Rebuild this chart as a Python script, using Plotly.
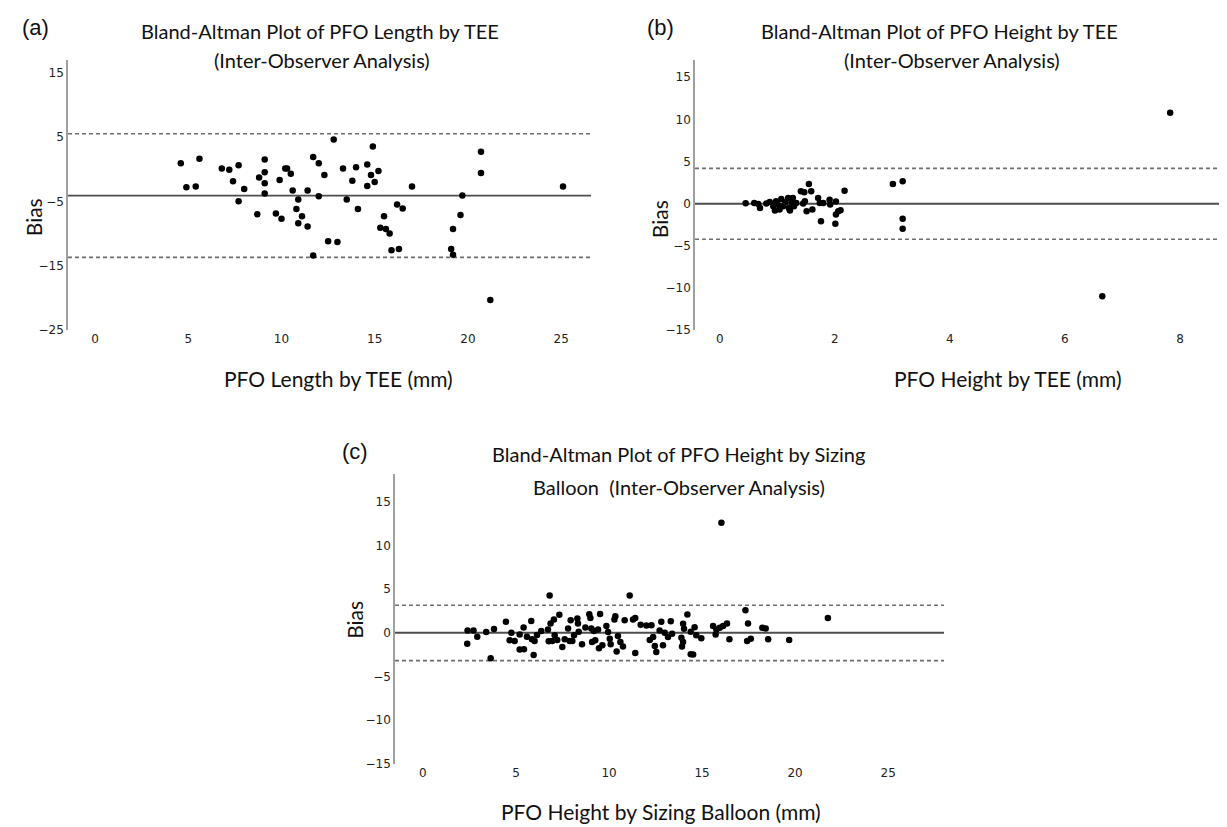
import plotly.graph_objects as go

W, H = 1227, 827

# ---------------- data ----------------
# Panel (a): PFO length by TEE
a_length = [4.6, 5.6, 4.9, 5.4, 6.8, 7.2, 7.7, 7.4, 8.0, 7.7, 9.1, 9.1, 8.8, 9.1, 9.1,
            8.7, 9.7, 10.0, 9.9, 10.2, 10.3, 10.5, 10.6, 10.9, 10.8, 11.1, 10.9, 11.4, 11.4, 11.7,
            12.0, 12.3, 12.0, 11.7, 12.5, 13.0, 12.8, 13.3, 13.5, 14.0, 13.8, 14.1, 14.6, 14.9, 14.8,
            15.2, 14.6, 15.0, 17.0, 15.5, 15.3, 15.6, 15.8, 16.2, 16.5, 15.9, 16.3, 19.7, 19.6, 19.2,
            19.1, 19.2, 20.7, 20.7, 21.2, 25.1]
a_bias = [0.9, 1.6, -2.8, -2.7, 0.1, -0.1, 0.6, -1.9, -3.1, -5.0, 1.5, -0.5, -1.3, -2.2, -3.8,
          -7.0, -6.9, -7.7, -1.7, 0.1, 0.1, -0.7, -3.3, -4.7, -6.2, -7.3, -8.4, -3.3, -8.9, 1.9,
          0.9, -0.9, -4.2, -13.4, -11.2, -11.3, 4.6, 0.1, -4.7, 0.3, -1.8, -6.2, 0.7, 3.5, -0.9,
          -0.3, -2.6, -2.0, -2.7, -7.3, -9.1, -9.3, -10.0, -5.5, -6.1, -12.6, -12.4, -4.1, -7.1, -9.3,
          -12.4, -13.3, 2.7, -0.6, -20.3, -2.7]
a_lines = [5.5, -4.1, -13.7]          # upper LoA, mean bias, lower LoA
a_xticks = [0, 5, 10, 15, 20, 25]
a_yticks = [15, 5, -5, -15, -25]

# Panel (b): PFO height by TEE
b_height = [0.45, 0.6, 0.67, 0.7, 0.81, 0.87, 0.93, 0.96, 0.98, 1.01, 1.07, 1.1, 1.14, 1.19, 1.2,
            1.25, 1.27, 1.29, 1.33, 1.22, 1.04, 1.41, 1.47, 1.55, 1.59, 1.48, 1.45, 1.51, 1.61, 1.71,
            1.74, 1.8, 1.76, 1.91, 1.92, 2.02, 2.02, 2.06, 2.1, 2.01, 2.17, 3.01, 3.18, 3.18, 3.18,
            7.83, 6.65]
b_bias = [0.06, 0.1, -0.02, -0.49, 0.02, 0.21, -0.29, -0.8, 0.29, -0.1, 0.56, -0.29, 0.18, 0.68, -0.49,
          0.18, 0.68, -0.29, 0.1, -0.8, -0.69, 1.47, 1.35, 2.33, 1.47, 0.29, 0.02, -0.88, -0.69, 0.68,
          0.1, 0.1, -2.06, 0.49, -0.1, 0.26, -1.27, -0.88, -0.76, -2.37, 1.55, 2.33, 2.68, -1.79, -2.96,
          10.8, -10.96]
b_lines = [4.2, 0.0, -4.2]
b_xticks = [0, 2, 4, 6, 8]
b_yticks = [15, 10, 5, 0, -5, -10, -15]

# Panel (c): PFO height by sizing balloon
c_height = [2.4, 2.72, 2.38, 2.92, 3.4, 3.82, 3.64, 4.46, 4.75, 4.66, 4.93, 5.2, 5.41, 5.2, 5.43,
            5.59, 5.82, 5.86, 6.0, 5.95, 6.13, 6.36, 6.72, 6.81, 6.86, 7.04, 7.33, 6.76, 6.95, 7.08,
            7.22, 7.49, 7.62, 7.8, 7.94, 7.89, 8.03, 8.12, 8.3, 8.33, 8.37, 8.55, 8.73, 8.94, 9.0,
            9.05, 9.09, 9.19, 9.26, 9.41, 9.52, 9.46, 9.64, 9.86, 9.95, 10.04, 10.09, 10.29, 10.34, 10.41,
            10.48, 10.61, 10.75, 10.84, 11.11, 11.29, 11.41, 11.41, 11.7, 12.01, 12.28, 12.19, 12.37, 12.46, 12.54,
            12.72, 12.81, 12.9, 12.99, 13.17, 13.32, 13.39, 13.98, 14.03, 14.21, 13.89, 13.98, 13.92, 14.39, 14.6,
            14.69, 14.96, 14.39, 14.52, 15.59, 15.77, 15.73, 15.95, 16.13, 16.34, 16.47, 16.04, 17.33, 17.47, 17.42,
            17.62, 18.24, 18.42, 18.55, 19.68, 21.76]
c_bias = [0.26, 0.26, -1.25, -0.45, 0.08, 0.42, -2.92, 1.25, 0.0, -0.87, -0.95, -0.19, 0.6, -1.93, -1.89,
          -0.45, 1.36, -0.76, -0.95, -2.54, -0.27, 0.19, 0.38, 4.28, 1.06, 1.52, 2.05, -0.98, -0.95, -0.3,
          -0.83, -1.63, -0.76, 0.49, 1.44, -0.95, -0.95, -0.3, 1.63, 1.06, 0.11, -1.33, 0.6, 2.12, 1.7,
          0.49, -1.06, 0.19, -0.87, 0.38, 2.16, -1.78, -1.44, 0.76, 0.08, -0.68, -1.33, 1.52, 1.89, -2.16,
          -0.38, -1.06, -1.59, 1.44, 4.28, 1.52, 1.7, -2.31, 0.91, 0.83, 0.87, -0.83, -0.49, -1.52, -2.2,
          0.26, 1.25, -1.44, 0.0, -0.49, 1.33, -0.11, 1.02, 0.45, 2.08, -0.57, -1.06, -1.59, 0.11, 0.64,
          -0.3, -0.64, -2.46, -2.5, 0.76, 0.38, -0.19, 0.57, 0.76, 1.06, -0.76, 12.6, 2.58, 1.06, -0.95,
          -0.68, 0.57, 0.49, -0.76, -0.83, 1.7]
c_lines = [3.15, 0.0, -3.2]
c_xticks = [0, 5, 10, 15, 20, 25]
c_yticks = [15, 10, 5, 0, -5, -10, -15]

# ---------------- layout helpers ----------------
def xdom(l, r):
    return [l / W, r / W]

def ydom(t, b):
    return [1 - b / H, 1 - t / H]

TITLE_FONT = dict(family="Lato, Open Sans, sans-serif", size=20, color="#111")
AXT_FONT = dict(family="Lato, Open Sans, sans-serif", size=21, color="#111")
TICK_FONT = dict(family="DejaVu Sans, sans-serif", size=12, color="#222")
LETTER_FONT = dict(family="Liberation Sans, Arial, sans-serif", size=22, color="#111")

fig = go.Figure()

panels = [
    ("", a_length, a_bias, a_lines, a_xticks, a_yticks),
    ("2", b_height, b_bias, b_lines, b_xticks, b_yticks),
    ("3", c_height, c_bias, c_lines, c_xticks, c_yticks),
]

for suf, xs, ys, lines, xt, yt in panels:
    fig.add_trace(go.Scatter(
        x=xs, y=ys, mode="markers", xaxis="x" + suf, yaxis="y" + suf,
        marker=dict(size=6.5, color="black", line=dict(width=0)),
        showlegend=False, hoverinfo="x+y"))
    for i, v in enumerate(lines):
        solid = (i == 1)
        fig.add_shape(type="line", xref=("x" + suf + " domain"), yref=("y" + suf),
                      x0=0, x1=1, y0=v, y1=v,
                      line=dict(color="#4d4d4d" if solid else "#6f6f6f",
                                width=1.8 if solid else 1.6,
                                dash="solid" if solid else "4px,3px"),
                      layer="below")

def yaxis_cfg(dom, rng, ticks, anchor):
    return dict(domain=dom, range=rng, tickvals=ticks, showline=True, linecolor="#a0a0a0",
                linewidth=1.5, ticks="", showgrid=False, zeroline=False, tickfont=TICK_FONT,
                anchor=anchor, fixedrange=True)

def xaxis_cfg(dom, rng, ticks, anchor):
    return dict(domain=dom, range=rng, tickvals=ticks, showline=False, ticks="", showgrid=False,
                zeroline=False, tickfont=TICK_FONT, anchor=anchor, fixedrange=True)

fig.update_layout(
    width=W, height=H, autosize=False,
    margin=dict(l=0, r=0, t=0, b=0),
    paper_bgcolor="white", plot_bgcolor="white",
    xaxis=xaxis_cfg(xdom(60, 583), [-1.45, 26.6], a_xticks, "y"),
    yaxis=yaxis_cfg(ydom(52, 325), [-25, 17.0], a_yticks, "x"),
    xaxis2=xaxis_cfg(xdom(687, 1222), [-0.43, 8.87], b_xticks, "y2"),
    yaxis2=yaxis_cfg(ydom(52, 325), [-15, 17.1], b_yticks, "x2"),
    xaxis3=xaxis_cfg(xdom(387, 936), [-1.5, 28.0], c_xticks, "y3"),
    yaxis3=yaxis_cfg(ydom(470, 762), [-15, 18.2], c_yticks, "x3"),
)

def note(text, xp, yp, font, angle=0):
    fig.add_annotation(text=text, x=xp / W, y=1 - yp / H, xref="paper", yref="paper",
                       showarrow=False, font=font, textangle=angle,
                       xanchor="center", yanchor="middle")

# panel letters
note("(a)", 27, 20, LETTER_FONT)
note("(b)", 652, 20, LETTER_FONT)
note("(c)", 347, 447, LETTER_FONT)

# titles
note("Bland-Altman Plot of PFO Length by TEE", 312, 23, TITLE_FONT)
note("(Inter-Observer Analysis)", 314, 52, TITLE_FONT)
note("Bland-Altman Plot of PFO Height by TEE", 932, 23, TITLE_FONT)
note("(Inter-Observer Analysis)", 944, 52, TITLE_FONT)
note("Bland-Altman Plot of PFO Height by Sizing", 670, 450, TITLE_FONT)
note("Balloon  (Inter-Observer Analysis)", 671, 483, TITLE_FONT)

# axis titles
note("Bias", 25, 211, AXT_FONT, -90)
note("Bias", 651, 213, AXT_FONT, -90)
note("Bias", 347, 617, AXT_FONT, -90)
note("PFO Length by TEE (mm)", 330, 374, AXT_FONT)
note("PFO Height by TEE (mm)", 1000, 374, AXT_FONT)
note("PFO Height by Sizing Balloon (mm)", 653, 810, AXT_FONT)

fig.write_html("out.html")
